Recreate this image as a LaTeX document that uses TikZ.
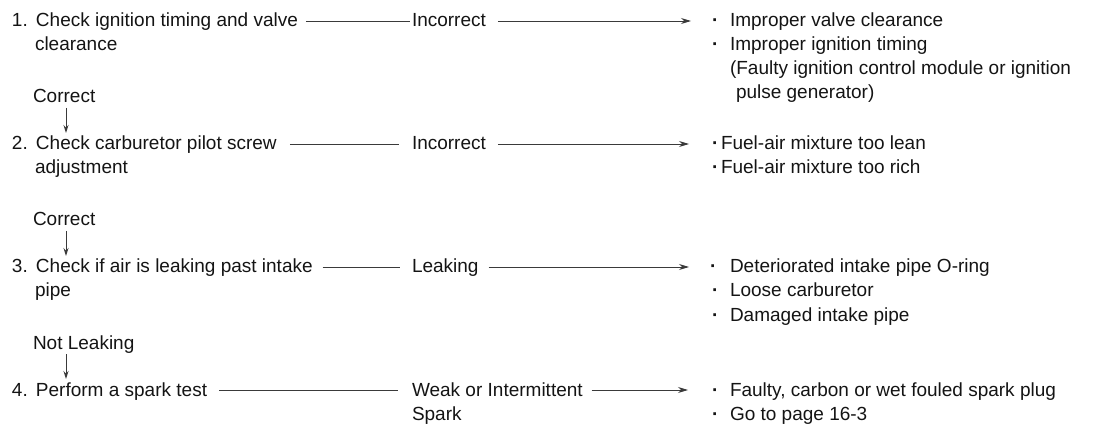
\documentclass[tikz,border=0pt]{standalone}
\usepackage{fontspec}
\setmainfont{Liberation Sans}
\usetikzlibrary{arrows.meta,calc}
\definecolor{ink}{HTML}{141414}
\definecolor{rule}{HTML}{3A3A3A}
\newcommand\stepno[1]{\makebox[24pt][l]{#1}}
\begin{document}
\begin{tikzpicture}[x=1pt,y=-1pt,
  font=\fontsize{19}{24}\selectfont,
  txt/.style={inner sep=0pt, outer sep=0pt, anchor=base west, text=ink},
  dot/.style={txt, font=\fontsize{19}{24}\selectfont\bfseries},
  link/.style={draw=rule, line width=0.9pt},
  tip/.style={-{Stealth[length=10pt,width=6pt]}},
  downtip/.style={-{Stealth[length=8pt,width=5pt]}}]
\useasboundingbox (0,0) rectangle (1118,427);

% ---- checks (left column) ----
\node[txt] (s1)  at (12,27)  {\stepno{1.}Check ignition timing and valve};
\node[txt] (s1b) at (35,51)  {clearance};
\node[txt] (c1)  at (33,103) {Correct};
\node[txt] (s2)  at (12,150) {\stepno{2.}Check carburetor pilot screw};
\node[txt] (s2b) at (35,174) {adjustment};
\node[txt] (c2)  at (33,226) {Correct};
\node[txt] (s3)  at (12,273) {\stepno{3.}Check if air is leaking past intake};
\node[txt] (s3b) at (35,297) {pipe};
\node[txt] (c3)  at (33,349) {Not Leaking};
\node[txt] (s4)  at (12,396) {\stepno{4.}Perform a spark test};

% ---- results (middle column) ----
\node[txt] (r1)  at (412,27)  {Incorrect};
\node[txt] (r2)  at (412,150) {Incorrect};
\node[txt] (r3)  at (412,273) {Leaking};
\node[txt] (r4)  at (412,396) {Weak or Intermittent};
\node[txt] (r4b) at (412,420) {Spark};

% ---- probable causes (right column) ----
\node[dot] (b1)  at (712,27)  {·};
\node[txt] (a1)  at (730,27)  {Improper valve clearance};
\node[dot] (b1b) at (712,51)  {·};
\node[txt] (a1b) at (730,51)  {Improper ignition timing};
\node[txt] (a1c) at (730,75)  {(Faulty ignition control module or ignition};
\node[txt] (a1d) at (736,99)  {pulse generator)};

\node[dot] (b2)  at (712,150) {·};
\node[txt] (a2)  at (721,150) {Fuel-air mixture too lean};
\node[dot] (b2b) at (712,174) {·};
\node[txt] (a2b) at (721,174) {Fuel-air mixture too rich};

\node[dot] (b3)  at (710,273) {·};
\node[txt] (a3)  at (730,273) {Deteriorated intake pipe O-ring};
\node[dot] (b3b) at (712,297) {·};
\node[txt] (a3b) at (730,297) {Loose carburetor};
\node[dot] (b3c) at (712,321) {·};
\node[txt] (a3c) at (730,321) {Damaged intake pipe};

\node[dot] (b4)  at (712,396) {·};
\node[txt] (a4)  at (730,396) {Faulty, carbon or wet fouled spark plug};
\node[dot] (b4b) at (712,420) {·};
\node[txt] (a4b) at (730,420) {Go to page 16-3};

% ---- check -> result ----
\draw[link] ([xshift=8pt,yshift=6pt]s1.base east)  -- ([xshift=-2pt,yshift=6pt]r1.base west);
\draw[link] ([xshift=13pt,yshift=6pt]s2.base east) -- ([xshift=-13pt,yshift=6pt]r2.base west);
\draw[link] ([xshift=10pt,yshift=6pt]s3.base east) -- ([xshift=-12pt,yshift=6pt]r3.base west);
\draw[link] ([xshift=12pt,yshift=6pt]s4.base east) -- ([xshift=-14pt,yshift=6pt]r4.base west);

% ---- result -> causes ----
\draw[link,tip] ([xshift=12pt,yshift=6pt]r1.base east) -- ([xshift=-21pt,yshift=6pt]b1.base west);
\draw[link,tip] ([xshift=12pt,yshift=6pt]r2.base east) -- ([xshift=-23pt,yshift=6pt]b2.base west);
\draw[link,tip] ([xshift=10pt,yshift=6pt]r3.base east) -- ([xshift=-21pt,yshift=6pt]b3.base west);
\draw[link,tip] ([xshift=9pt,yshift=6pt]r4.base east)  -- ([xshift=-24pt,yshift=6pt]b4.base west);

% ---- check -> next check ----
\draw[link,downtip] ([xshift=33pt,yshift=-5pt]c1.base west) -- ([xshift=54pt,yshift=17pt]s2.base west);
\draw[link,downtip] ([xshift=33pt,yshift=-5pt]c2.base west) -- ([xshift=54pt,yshift=17pt]s3.base west);
\draw[link,downtip] ([xshift=33pt,yshift=-5pt]c3.base west) -- ([xshift=54pt,yshift=17pt]s4.base west);
\end{tikzpicture}
\end{document}
